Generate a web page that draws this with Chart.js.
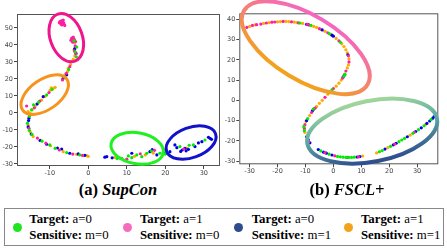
<!DOCTYPE html>
<html>
<head>
<meta charset="utf-8">
<script src="https://cdn.jsdelivr.net/npm/chart.js@4.4.1/dist/chart.umd.min.js"></script>
<style>
  body { margin: 0; background: #fff; }
  #wrap { position: relative; width: 447px; height: 249px; overflow: hidden; }
  canvas { position: absolute; top: 0; }
  .cap { position: absolute; width: 140px; text-align: center; font: bold 16.5px "Liberation Serif", serif; top: 180px; line-height: 20px; color: #000; }
  .cap i { font-style: italic; }
  #legend { position: absolute; left: 4px; top: 208px; width: 438px; height: 36px; border: 1px solid #888; }
  .item { position: absolute; top: 0; font: 12.8px "Liberation Serif", serif; color: #000; line-height: 16.4px; }
  .item b { font-weight: bold; }
  .dot { position: absolute; width: 9px; height: 9px; border-radius: 50%; top: 14px; }
</style>
</head>
<body>
<div id="wrap">
  <canvas id="supcon" width="225" height="180" style="left:0"></canvas>
  <canvas id="fscl" width="232" height="180" style="left:215px"></canvas>
  <div class="cap" style="left:48px">(a) <i>SupCon</i></div>
  <div class="cap" style="left:277px">(b) <i>FSCL+</i></div>
  <div id="legend"></div>
</div>
<script>
// legend entries
const legendTargets = ['a=0', 'a=1', 'a=0', 'a=1'];
const legendSensitive = ['m=0', 'm=0', 'm=1', 'm=1'];
const legendColors = ['#1ee51e', '#f76bbd', '#2d4b8d', '#f5a21b'];

// point colours for the scatter groups
const pointColors = ['rgb(0,235,0)', 'rgb(255,30,160)', 'rgb(0,0,230)', 'rgb(255,170,0)'];

// (a) SupCon  -- [x, y]
const supconGreen = [[-3.7,42.4],[-3.0,38.8],[-3.4,36.0],[-3.1,33.0],[-5.1,25.5],[-6.3,21.2],
  [-9.4,13.8],[-10.8,10.6],[-12.9,6.4],[-14.2,4.7],[-14.7,1.8],[-15.3,-2.0],
  [-15.8,-6.0],[-15.3,-10.2],[-14.6,-12.6],[-12.0,-16.6],[-10.0,-18.8],[-8.6,-20.8],[-5.6,-23.3],[-2.2,-24.7],
  [8.7,-26.7],[10.4,-25.3],[12.6,-24.7],[13.9,-25.7],[15.2,-23.7],[16.4,-22.4],[18.6,-23.7],[23.8,-19.8],
  [27.3,-18.8],[30.3,-15.9],[11.3,-26.3],[7.5,-26.8],[20.0,-24.2],[26.2,-19.0]];
const supconPink = [[-7.3,53.8],[-7.0,54.2],[-6.6,53.5],[-7.2,52.6],[-6.8,52.9],[-6.3,52.2],[-7.5,53.1],
  [-6.1,51.5],[-6.9,51.8],[-6.5,54.6],[-7.1,53.3],[-6.4,53.0],
  [-4.3,44.0],[-3.9,44.6],[-3.6,43.2],[-4.5,42.8],[-3.3,42.0],[-4.0,41.6],[-3.8,43.7],[-4.2,42.3],
  [-3.4,39.5],[-3.6,36.5],[-3.2,34.8],[-4.8,27.2],[-5.7,23.3],[-6.7,19.4],
  [-10.2,12.0],[-12.6,7.0],[-16.0,4.1],[-14.0,3.0],
  [-15.4,-9.0],[-13.2,-14.8],[-11.0,-17.8],[-7.5,-21.8],[-4.0,-24.2],[-1.5,-25.0],
  [10.0,-27.2],[8.2,-26.5],[17.2,-22.0],[24.8,-21.2],[13.5,-24.0]];
const supconBlue = [[-3.5,37.8],[-3.2,35.0],[-5.6,22.4],[-6.5,20.4],
  [-11.7,9.6],[-13.3,5.2],[-15.4,-3.1],[-15.5,-4.5],[-15.2,-1.5],
  [-15.6,-8.2],[-14.8,-12.4],[-12.5,-16.2],[-10.8,-18.4],[-8.0,-20.6],[-6.9,-21.2],[-4.8,-23.7],[-2.6,-24.1],[-0.9,-24.9],
  [4.8,-25.7],[4.3,-26.0],[6.2,-26.4],[11.3,-23.7],[16.0,-22.8],[16.6,-21.6],[17.8,-24.7],[19.5,-23.3],[20.4,-23.7],
  [21.2,-22.8],[22.5,-18.8],[24.4,-21.8],[25.1,-20.8],[26.0,-21.4],[25.4,-22.3],[24.0,-22.6],[27.7,-19.8],
  [29.5,-16.9],[31.6,-14.9],[32.0,-15.5],[31.2,-14.3],[28.6,-17.6],[23.0,-20.4]];
const supconOrange = [[-6.7,52.4],[-4.1,43.0],[-3.5,41.4],[-3.7,37.2],[-3.3,35.5],[-3.5,33.5],[-3.9,31.5],
  [-4.3,30.2],[-4.6,28.5],[-5.4,24.3],[-6.0,22.4],[-5.2,26.3],
  [-8.6,15.1],[-9.1,14.5],[-9.6,14.8],[-9.9,13.4],[-11.2,9.8],[-12.1,7.6],[-13.1,5.7],[-13.8,3.7],[-14.6,2.0],[-15.6,0.8],[-15.1,-0.2],
  [-15.6,-7.1],[-15.1,-11.0],[-14.3,-13.9],[-12.5,-15.9],[-9.8,-19.3],[-6.5,-22.8],[-3.0,-24.4],[-0.4,-25.1],[0.0,-25.5],
  [6.9,-26.1],[12.0,-25.5],[16.9,-23.7],[25.6,-20.6],[14.8,-24.7]];

// (b) FSCL+  -- [x, y]
const fsclGreen = [[-12,38.2],[-8,37],[-1.5,33],[2.5,28.7],[3.7,12],[4.2,12.8],[-0.5,5.2],[-1.5,3.8],[-7.2,-4.3],
  [-9.2,-9],[-10.4,-15],[-10.6,-13],[-4.5,-25],[-1.5,-26.6],[1.5,-27.7],[2.5,-27.9],[3.5,-28.1],[4.5,-28.2],
  [5.5,-28.2],[6.5,-28.2],[7.5,-28.1],[16.5,-25.4],[17.5,-24.8],[20.5,-22.7],[23.5,-20.4],[24.5,-19.6],
  [25.5,-18.8],[28.5,-16.3],[30.5,-14.5],[32.5,-12.6],[35,-9.5]];
const fsclPink = [[-31,36],[-29,37],[-27.5,37.4],[-26,37.7],[-24,38.2],[-22,38.6],[-21,38.7],[-18,39],[-15,38.8],
  [-12.5,38.3],[-9.3,37.6],[-8.7,37.2],[-5,35.4],[-2,33.4],[2,29.4],[5.4,22],[5.6,19],[4.5,14.5],[3.3,11],
  [0,5.8],[-3,1.5],[-6.5,-3.8],[-7.8,-6],[-10.2,-12],[-10.4,-14],[-9.2,-19.3],[-8.8,-20.5],[-3,-25.8],
  [0.5,-27.4],[5,-28.2],[9,-27.9],[22,-21.6],[29,-15.8]];
const fsclBlue = [[-9,37.4],[-9.6,37.6],[-4,34.8],[-0.5,32.2],[0,31.7],[5.2,22.5],[3.5,11.5],[3.9,12.4],[-7.5,-5.2],
  [-7,-4.3],[-9.6,-10],[-9.6,-18],[-9,-19.5],[-8.4,-21],[-5.4,-24.3],[-3.5,-25.6],[-2.5,-26.1],[-0.5,-27],
  [8.5,-28],[9.5,-27.8],[18.5,-24.1],[21.5,-22],[22.5,-21.2],[26.5,-18],[29.5,-15.4],[31.5,-13.6],[33.5,-11.4],
  [34.5,-10.2],[35.5,-9],[36,-8.2]];
const fsclOrange = [[-30,36.5],[-28,37.3],[-25,38],[-23,38.4],[-20,38.8],[-19,38.9],[-17,39],[-16,38.9],[-14,38.6],
  [-13,38.4],[-11,38],[-7,36.5],[-6,36],[-4.5,35.1],[-3,34.1],[-1,32.6],[1,30.6],[3,28],[3.8,26.6],[4.5,25],
  [5,23.5],[5.6,20.5],[5.4,17.5],[5,16],[4,13],[2.8,10],[2,8.5],[1,7],[-1,4.5],[-2,3],[-4,0],[-5,-1.5],[-6,-3],
  [-8.5,-7.5],[-9.8,-10.5],[-10.4,-13.5],[-10.2,-15.8],[10.5,-27.5],[15.5,-26],[19.5,-23.4],[27.5,-17.2],[33,-12]];

// highlight rings: centre in data units, radii in px, rotation in degrees
const supconRings = [
  { x: -5.7, y: 44.3, rx: 16, ry: 25, rot: -20, width: 3, colors: ['#f0158c'] },
  { x: -11.3, y: 10.8, rx: 27, ry: 15, rot: -35, width: 3, colors: ['#f7941e'] },
  { x: 12.7, y: -20.8, rx: 26.5, ry: 15.5, rot: 10, width: 3, colors: ['#1ff01f'] },
  { x: 26.7, y: -17.4, rx: 26, ry: 15, rot: -20, width: 3, colors: ['#1212c8'] }
];
const fsclRings = [
  { x: -9.9, y: 26, rx: 72, ry: 32.5, rot: 31, width: 4, colors: ['#f566c0', '#f2a21c'] },
  { x: 13.9, y: -15.2, rx: 66, ry: 30.5, rot: -11, width: 4, colors: ['#a0d69a', '#5aa6a4', '#2f4e8e'] }
];

function makeSets(groups) {
  return groups.map((g, i) => ({
    data: g.map(p => ({ x: p[0], y: p[1] })),
    backgroundColor: pointColors[i],
    pointRadius: 1.6,
    pointBorderWidth: 0
  }));
}

function ringPlugin(list) {
  return {
    id: 'rings',
    afterDatasetsDraw(chart) {
      const ctx = chart.ctx, a = chart.chartArea;
      const xs = chart.scales.x, ys = chart.scales.y;
      ctx.save();
      ctx.strokeStyle = '#555';
      ctx.lineWidth = 1;
      ctx.strokeRect(a.left + 0.5, a.top + 0.5, a.right - a.left - 1, a.bottom - a.top - 1);
      list.forEach(r => {
        const cx = xs.getPixelForValue(r.x), cy = ys.getPixelForValue(r.y);
        const t = r.rot * Math.PI / 180;
        let stroke = r.colors[0];
        if (r.colors.length > 1) {
          const dx = -Math.sin(t) * r.ry, dy = Math.cos(t) * r.ry;
          const g = ctx.createLinearGradient(cx - dx, cy - dy, cx + dx, cy + dy);
          r.colors.forEach((c, i) => g.addColorStop(i / (r.colors.length - 1), c));
          stroke = g;
        }
        ctx.beginPath();
        ctx.ellipse(cx, cy, r.rx, r.ry, t, 0, Math.PI * 2);
        ctx.strokeStyle = stroke;
        ctx.lineWidth = r.width;
        ctx.stroke();
      });
      ctx.restore();
    }
  };
}

function axis(min, max, size, isX) {
  return {
    type: 'linear',
    min: min,
    max: max,
    ticks: { stepSize: 10, includeBounds: false, color: '#444', padding: isX ? 0 : 1,
      font: { family: 'DejaVu Sans', size: 6.5 } },
    grid: { drawOnChartArea: false, tickLength: 3, color: '#444' },
    border: { display: false },
    afterFit: s => { if (isX) s.height = size; else s.width = size; }
  };
}

function makeChart(id, groups, rings, xr, yr, yw, xh, pad) {
  new Chart(document.getElementById(id), {
    type: 'scatter',
    data: { datasets: makeSets(groups) },
    options: {
      responsive: false,
      animation: false,
      layout: { padding: pad },
      plugins: { legend: { display: false }, tooltip: { enabled: false } },
      scales: { x: axis(xr[0], xr[1], xh, true), y: axis(yr[0], yr[1], yw, false) }
    },
    plugins: [ringPlugin(rings)]
  });
}

makeChart('supcon', [supconGreen, supconPink, supconBlue, supconOrange], supconRings,
  [-18.5, 34.2], [-31.2, 58.2], 17, 14, { top: 14, right: 5, left: 0, bottom: 0 });
makeChart('fscl', [fsclGreen, fsclPink, fsclBlue, fsclOrange], fsclRings,
  [-33.7, 37.6], [-31.6, 43], 24.3, 15.7, { top: 13.3, right: 8.7, left: 0, bottom: 0 });

// legend
const dotX = [12.8, 122.2, 233.2, 343.2];
const textX = [24.3, 135, 246.7, 356];
const legend = document.getElementById('legend');
legendTargets.forEach((t, i) => {
  const d = document.createElement('div');
  d.className = 'dot';
  d.style.left = (dotX[i] - 4.5) + 'px';
  d.style.background = legendColors[i];
  legend.appendChild(d);
  const it = document.createElement('div');
  it.className = 'item';
  it.style.left = textX[i] + 'px';
  it.style.top = '1.5px';
  it.innerHTML = '<b>Target:</b> ' + t + '<br><b>Sensitive:</b> ' + legendSensitive[i];
  legend.appendChild(it);
});
</script>
</body>
</html>
